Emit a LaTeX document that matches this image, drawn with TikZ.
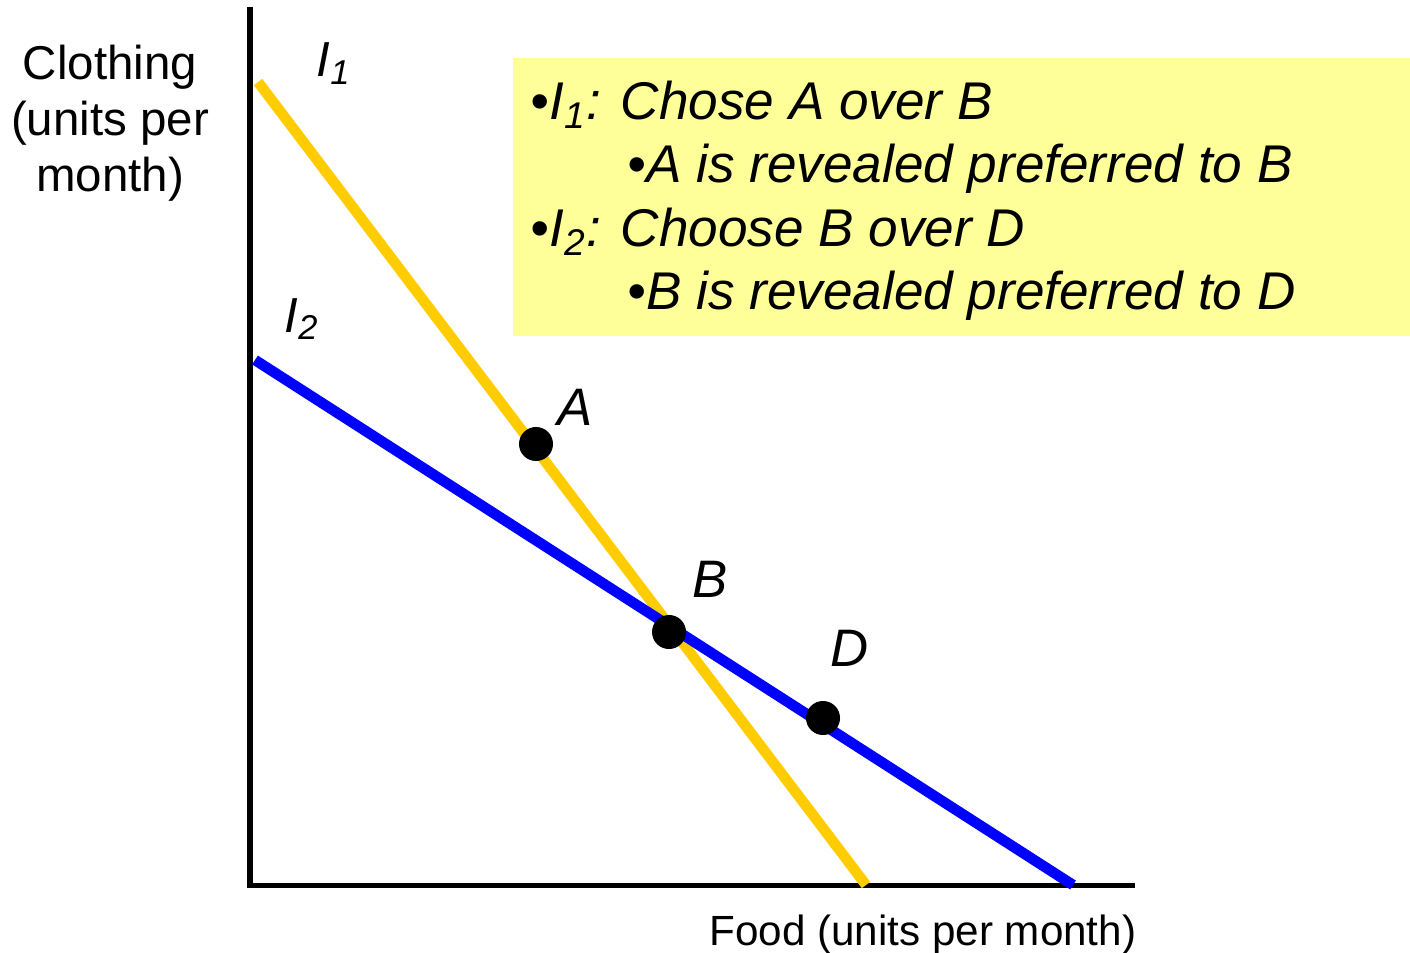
\documentclass[tikz,border=0pt]{standalone}
\usepackage{fontspec}
\setmainfont{Liberation Sans}
\definecolor{gold}{RGB}{255,204,0}
\definecolor{notefill}{RGB}{255,255,153}

\begin{document}
\begin{tikzpicture}[x=0.01cm, y=-0.01cm,
    axis/.style={draw=black, line width=1.45pt},
    budget/.style={line width=3pt},
    dot/.style={circle, fill=black, inner sep=0pt, minimum size=0.34cm},
    ptlabel/.style={anchor=base west, inner sep=0pt, font=\fontsize{15}{18}\selectfont\itshape},
    noteline/.style={anchor=base west, inner sep=0pt, font=\fontsize{15.1}{18}\selectfont\itshape}]
    \useasboundingbox (0,0) rectangle (1410,952);

    % note box
    \node[fill=notefill, anchor=north west, minimum width=8.98cm, minimum height=2.78cm, inner sep=0pt] (note) at (512,57) {};
    \node[noteline] (l1) at (530,120) {\textbullet I\textsubscript{1}: Chose A over B};
    \node[noteline] (l2) at (627,183) {\textbullet A is revealed preferred to B};
    \node[noteline] (l3) at (530,247) {\textbullet I\textsubscript{2}: Choose B over D};
    \node[noteline] (l4) at (627,310) {\textbullet B is revealed preferred to D};

    % axes
    \coordinate (top) at (250,7);
    \coordinate (origin) at (250,885.5);
    \coordinate (right) at (1135,885.5);
    \draw[axis] (top) -- (origin) -- (right);
    \node[align=center, font=\fontsize{13.5}{16}\selectfont] (ylab) at (110,123) {Clothing\\(units per\\month)};
    \node[anchor=base east, inner sep=0pt, font=\fontsize{12}{14}\selectfont] (xlab) at (1137,945) {Food (units per month)};

    % budget lines
    \coordinate (i1a) at (258,82);
    \coordinate (i1b) at (866,885);
    \coordinate (i2a) at (255,360);
    \coordinate (i2b) at (1073,885);
    \draw[budget, gold] (i1a) -- (i1b);
    \draw[budget, blue] (i2a) -- (i2b);
    \node[ptlabel, font=\fontsize{14}{16}\selectfont\itshape] (lab1) at (316,77) {I\textsubscript{1}};
    \node[ptlabel, font=\fontsize{14}{16}\selectfont\itshape] (lab2) at (284,332) {I\textsubscript{2}};

    % bundles
    \node[dot] (A) at (536,444) {};
    \node[dot] (B) at (669,632) {};
    \node[dot] (D) at (823,718) {};
    \node[ptlabel] (labA) at (557,425) {A};
    \node[ptlabel] (labB) at (692,597) {B};
    \node[ptlabel] (labD) at (830,666) {D};
\end{tikzpicture}
\end{document}
